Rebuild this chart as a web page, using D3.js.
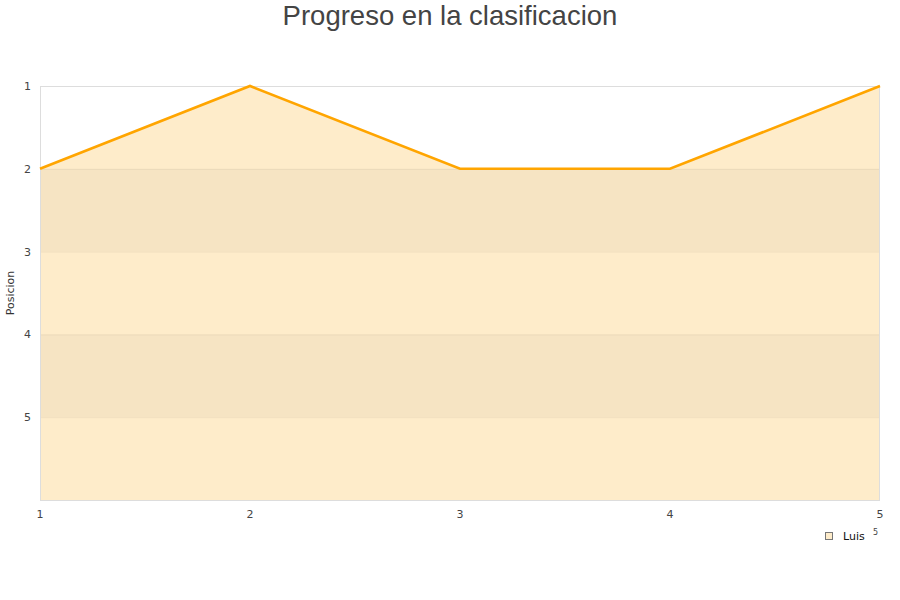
<!DOCTYPE html>
<html><head><meta charset="utf-8">
<script src="https://cdn.jsdelivr.net/npm/d3@7"></script>
<style>body{margin:0;background:#fff}</style>
</head><body><svg id="c" width="900" height="600"></svg>
<script>
const rounds = [1, 2, 3, 4, 5];
const positions = [2, 1, 2, 2, 1];
const yTicks = [1, 2, 3, 4, 5];
const seriesName = "Luis";
const title = "Progreso en la clasificacion";
const yTitle = "Posicion";

const svg = d3.select("#c");
const m = {l: 40, r: 880, t: 86, b: 500};
const x = d3.scaleLinear().domain([1, 5]).range([m.l, m.r]);
const y = d3.scaleLinear().domain([1, 6]).range([m.t, m.b]);

const data = rounds.map((r, i) => ({r, p: positions[i]}));
svg.append("path").datum(data)
  .attr("d", d3.area().x(d => x(d.r)).y0(y(6)).y1(d => y(d.p)))
  .attr("fill", "#feecca");

[[2,3],[4,5]].forEach(([a,b]) => {
  svg.append("rect").attr("x", m.l).attr("width", m.r - m.l)
    .attr("y", y(a)).attr("height", y(b) - y(a))
    .attr("fill", "rgba(0,0,0,0.03)");
});
[2,3,4,5].forEach(v => {
  svg.append("line").attr("x1", m.l).attr("x2", m.r).attr("y1", y(v)+0.5).attr("y2", y(v)+0.5)
    .attr("stroke", "rgba(0,0,0,0.05)");
});
svg.append("rect").attr("x", m.l+0.5).attr("y", m.t+0.5).attr("width", m.r-m.l-1).attr("height", m.b-m.t)
  .attr("fill", "none").attr("stroke", "#ddd");

svg.append("path").datum(data)
  .attr("d", d3.line().x(d => x(d.r)).y(d => y(d.p)))
  .attr("fill", "none").attr("stroke", "#ffa500").attr("stroke-width", 2.6);

svg.append("g").selectAll("text").data(yTicks).join("text")
  .attr("x", 31).attr("y", d => y(d) + 4).attr("text-anchor", "end")
  .attr("font-family", "DejaVu Sans").attr("font-size", 11).attr("fill", "#444")
  .text(d => d);
svg.append("g").selectAll("text").data(rounds).join("text")
  .attr("x", d => x(d)).attr("y", 518).attr("text-anchor", "middle")
  .attr("font-family", "DejaVu Sans").attr("font-size", 11).attr("fill", "#444")
  .text(d => d);

svg.append("text").attr("x", 450).attr("y", 25).attr("text-anchor", "middle")
  .attr("font-family", "Liberation Sans, Arial").attr("font-size", 27.5).attr("fill", "#444")
  .text(title);
svg.append("text").attr("transform", "translate(14,293) rotate(-90)").attr("text-anchor", "middle")
  .attr("font-family", "DejaVu Sans").attr("font-size", 11).attr("fill", "#333")
  .text(yTitle);

svg.append("rect").attr("x", 825.5).attr("y", 532.5).attr("width", 7).attr("height", 7)
  .attr("fill", "#feecca").attr("stroke", "#777");
svg.append("text").attr("x", 843).attr("y", 540)
  .attr("font-family", "DejaVu Sans").attr("font-size", 11).attr("fill", "#111")
  .text(seriesName);
svg.append("text").attr("x", 873).attr("y", 535)
  .attr("font-family", "DejaVu Sans").attr("font-size", 8).attr("fill", "#444")
  .text("5");
</script></body></html>
